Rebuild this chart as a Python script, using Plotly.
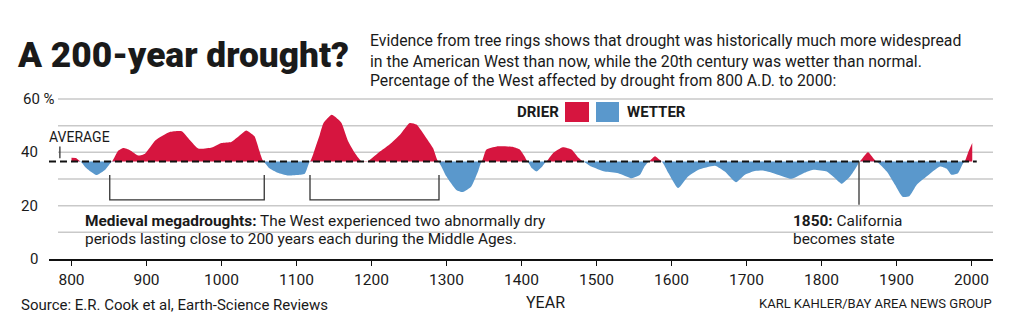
import plotly.graph_objects as go

# Share of the American West in drought (%), 800 A.D. to 2000
years = [800, 806, 812, 820, 833, 845, 854, 862, 869, 878, 889, 898, 912, 931, 947,
         958, 969, 987, 1000, 1013, 1025, 1033, 1044, 1050, 1056, 1064, 1075, 1088,
         1100, 1111, 1118, 1126, 1131, 1136, 1147, 1155, 1160, 1169, 1178, 1187, 1195,
         1210, 1224, 1238, 1251, 1260, 1273, 1282, 1289, 1300, 1313, 1322, 1333, 1342,
         1347, 1353, 1367, 1389, 1398, 1404, 1408, 1414, 1420, 1427, 1433, 1442, 1455,
         1467, 1476, 1482, 1493, 1511, 1529, 1547, 1558, 1564, 1570, 1578, 1587, 1596,
         1609, 1622, 1636, 1658, 1671, 1686, 1698, 1711, 1722, 1736, 1760, 1776, 1789,
         1807, 1818, 1827, 1838, 1847, 1851, 1862, 1873, 1887, 1898, 1908, 1917, 1927,
         1940, 1958, 1967, 1973, 1982, 1989, 1991, 1996, 2001]
drought_pct = [38.0, 37.9, 36.6, 34.0, 31.5, 33.5, 36.6, 40.5, 41.6, 40.8, 38.8, 39.5,
               44.5, 47.6, 47.9, 44.5, 41.4, 41.8, 43.5, 43.9, 46.5, 48.2, 46.0, 41.0,
               36.6, 34.0, 32.3, 31.3, 31.5, 32.0, 36.6, 42.5, 46.6, 51.0, 54.1, 52.5,
               51.0, 44.1, 39.7, 36.6, 36.6, 40.0, 42.9, 46.6, 51.0, 50.4, 45.4, 41.6,
               36.6, 30.9, 25.9, 25.1, 27.2, 32.8, 36.6, 41.0, 42.2, 42.0, 41.0, 38.5,
               36.6, 34.0, 32.8, 34.5, 36.6, 39.7, 41.9, 41.0, 38.0, 36.6, 34.7, 32.8,
               32.2, 30.3, 31.6, 34.7, 36.6, 38.5, 36.6, 32.2, 26.6, 30.9, 33.5, 35.0,
               32.8, 28.8, 31.6, 33.0, 33.2, 32.2, 30.1, 32.2, 33.5, 32.8, 30.3, 28.2,
               30.9, 34.7, 36.6, 40.0, 36.6, 32.8, 27.8, 23.3, 23.5, 27.8, 30.9, 34.7,
               33.8, 31.6, 32.2, 36.0, 36.6, 40.3, 43.5]
AVERAGE = 36.6

x_ticks = list(range(800, 2001, 100))
y_labels = {0: "0", 20: "20", 40: "40", 60: "60 %"}
grid_levels = [10, 20, 30, 40, 50, 60]

megadroughts = [(851, 1057), (1118, 1290)]
statehood_year = 1850

RED = "#d6153f"
BLUE = "#5a98cc"
FONT = "Roboto, Liberation Sans, Arial, sans-serif"
INK = "#1a1a1a"

# canvas geometry
W_PX, H_PX = 1018, 322
L, R, T, B = 49, 25, 90, 63
PW, PH = W_PX - L - R, H_PX - T - B
X_RANGE = [770, 770 + PW / 0.75]
Y_RANGE = [0, PH / (160 / 60)]


def px(x):
    return (x - L) / PW


def py(y):
    return (T + PH - y) / PH


drier = [max(v, AVERAGE) for v in drought_pct]
wetter = [min(v, AVERAGE) for v in drought_pct]
base = [AVERAGE] * len(years)

fig = go.Figure()
for vals, col in ((drier, RED), (wetter, BLUE)):
    fig.add_trace(go.Scatter(x=years, y=base, mode="lines", line=dict(width=0),
                             hoverinfo="skip", showlegend=False))
    fig.add_trace(go.Scatter(x=years, y=vals, mode="lines",
                             line=dict(width=0, shape="spline", smoothing=0.5),
                             fill="tonexty", fillcolor=col, hoverinfo="skip",
                             showlegend=False))

shapes = []
for g in grid_levels:
    shapes.append(dict(type="line", xref="paper", yref="y", x0=px(58), x1=1, y0=g, y1=g,
                       line=dict(color="#c9c9c9", width=1.5), layer="below"))
# average line
shapes.append(dict(type="line", xref="x", yref="y", x0=770, x1=2007, y0=AVERAGE,
                   y1=AVERAGE, line=dict(color="#111", width=2, dash="7px,4px")))
# marker under the AVERAGE label
shapes.append(dict(type="line", xref="x", yref="y", x0=784.5, x1=784.5, y0=37.8,
                   y1=42.2, line=dict(color="#333", width=1.3)))
# megadrought brackets
for a, b in megadroughts:
    shapes.append(dict(type="path", xref="x", yref="y",
                       path=f"M {a},31.5 L {a},22.2 L {b},22.2 L {b},31.5",
                       line=dict(color="#333", width=1.3)))
# statehood marker
shapes.append(dict(type="line", xref="x", yref="y", x0=statehood_year,
                   x1=statehood_year, y0=AVERAGE, y1=20.3,
                   line=dict(color="#333", width=1.3)))
# legend swatches
shapes.append(dict(type="rect", xref="paper", yref="paper", x0=px(565), x1=px(589),
                   y0=py(122), y1=py(102), fillcolor=RED, line=dict(width=0)))
shapes.append(dict(type="rect", xref="paper", yref="paper", x0=px(596), x1=px(619),
                   y0=py(122), y1=py(102), fillcolor=BLUE, line=dict(width=0)))

ann = []


def text(x, y, s, size, anchor="left", weight="normal", color=INK):
    ann.append(dict(xref="paper", yref="paper", x=px(x), y=py(y), text=s,
                    showarrow=False, xanchor=anchor, yanchor="middle",
                    font=dict(family=FONT, size=size, color=color, weight=weight)))


text(15, 55, "A 200-year drought?", 35.3, weight=900)
text(368, 40, "Evidence from tree rings shows that drought was historically much more widespread", 15.8)
text(368, 61, "in the American West than now, while the 20th century was wetter than normal.", 15.8)
text(368, 81, "Percentage of the West affected by drought from 800 A.D. to 2000:", 15.8)

for v, s in y_labels.items():
    ypix = 259 - v * 160 / 60
    if v == 60:
        text(21, ypix, s, 15)
    else:
        text(40, ypix, s, 15, anchor="right")

text(47, 137, "AVERAGE", 14)
text(561, 112, "<b>DRIER</b>", 15, anchor="right")
text(625, 112, "<b>WETTER</b>", 15)
text(83, 221, "<b>Medieval megadroughts:</b> The West experienced two abnormally dry", 15.4)
text(83, 239, "periods lasting close to 200 years each during the Middle Ages.", 15.4)
text(791, 221, "<b>1850:</b> California", 15.4)
text(791, 239, "becomes state", 15.4)
text(19, 305, "Source: E.R. Cook et al, Earth-Science Reviews", 15)
text(524, 302, "YEAR", 16)
text(994, 303, "KARL KAHLER/BAY AREA NEWS GROUP", 13, anchor="right")

fig.update_layout(
    width=W_PX, height=H_PX,
    margin=dict(l=L, r=R, t=T, b=B, pad=0),
    paper_bgcolor="white", plot_bgcolor="white",
    shapes=shapes, annotations=ann,
    xaxis=dict(range=X_RANGE, tickvals=x_ticks, showgrid=False, zeroline=False,
               showline=True, linecolor="#111", linewidth=2, ticks="outside",
               ticklen=5, tickwidth=1.3, tickcolor="#111",
               tickfont=dict(family=FONT, size=15.5, color=INK), fixedrange=True),
    yaxis=dict(range=Y_RANGE, showgrid=False, zeroline=False, showticklabels=False,
               showline=False, fixedrange=True),
)

fig.write_html("out.html")
